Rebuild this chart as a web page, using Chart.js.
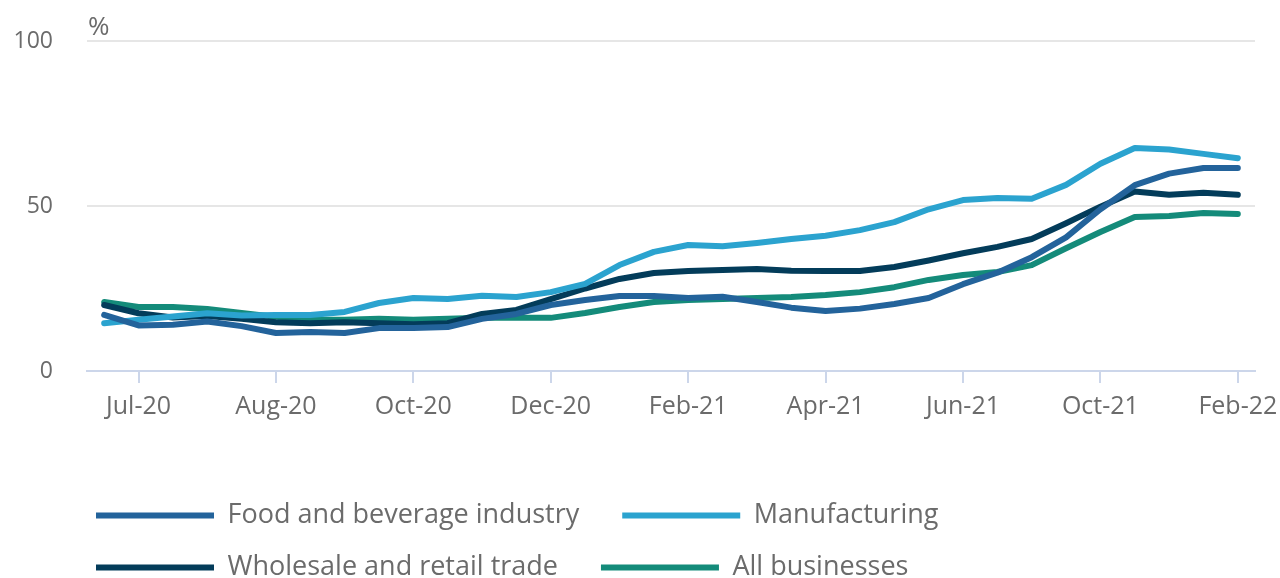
<!DOCTYPE html>
<html>
<head>
<meta charset="utf-8">
<script src="https://cdn.jsdelivr.net/npm/chart.js@4"></script>
<style>
  html, body { margin: 0; padding: 0; background: #fff; }
  #wrap { width: 1280px; height: 578px; }
</style>
</head>
<body>
<div id="wrap"><canvas id="myChart"></canvas></div>
<script>
// survey rounds, only some of them get a label on the axis
const categories = ['', 'Jul-20', '', '', '', 'Aug-20', '', '', '', 'Oct-20', '', '', '', 'Dec-20', '', '', '',
    'Feb-21', '', '', '', 'Apr-21', '', '', '', 'Jun-21', '', '', '', 'Oct-21', '', '', '', 'Feb-22'];

const foodBeverage = [17.0, 13.8, 14.0, 15.0, 13.6, 11.5, 11.8, 11.5, 13.0, 13.0, 13.3, 15.8, 17.3, 20.0, 21.5, 22.7, 22.7,
    22.1, 22.5, 20.9, 19.2, 18.2, 18.9, 20.3, 22.1, 26.3, 29.8, 34.5, 40.5, 49.0, 56.3, 59.8, 61.5, 61.5];
const manufacturing = [14.5, 15.5, 16.5, 17.5, 16.8, 17.0, 17.0, 17.9, 20.6, 22.1, 21.8, 22.8, 22.4, 23.9, 26.4, 32.1, 36.1,
    38.2, 37.8, 38.8, 40.0, 41.0, 42.7, 45.1, 49.0, 51.8, 52.4, 52.2, 56.4, 62.8, 67.6, 67.1, 65.8, 64.5];
const wholesaleRetail = [20.0, 17.5, 16.2, 16.7, 15.8, 14.8, 14.5, 14.8, 14.5, 14.2, 14.5, 17.3, 18.5, 21.8, 25.0, 27.9, 29.7,
    30.3, 30.6, 30.9, 30.4, 30.3, 30.3, 31.5, 33.5, 35.7, 37.6, 40.0, 44.8, 49.8, 54.4, 53.4, 54.0, 53.4];
const allBusinesses = [20.9, 19.4, 19.4, 18.8, 17.6, 16.4, 15.5, 15.5, 15.8, 15.5, 15.8, 16.1, 16.1, 16.1, 17.6, 19.4, 20.9,
    21.5, 21.8, 22.1, 22.4, 23.0, 23.9, 25.4, 27.6, 29.1, 30.0, 32.1, 37.2, 42.1, 46.7, 47.0, 47.9, 47.6];

const yMin = 0, yMax = 100, yStep = 50;

const FONT = "'Open Sans', sans-serif";
const GREY = '#6b6b6b';

function series(label, data, color) {
    return {
        label: label,
        data: data,
        borderColor: color,
        backgroundColor: color,
        borderWidth: 6,
        borderCapStyle: 'round',
        borderJoinStyle: 'round',
        pointRadius: 0,
        tension: 0
    };
}

// "%" over the y axis, and push the legend to the right a bit
const extras = {
    id: 'extras',
    afterLayout(chart) {
        const l = chart.legend;
        const dx = 71 - l.left;
        l.left += dx;
        l.right += dx;
    },
    afterDraw(chart) {
        const {ctx, chartArea} = chart;
        ctx.save();
        ctx.font = '26px ' + FONT;
        ctx.fillStyle = GREY;
        ctx.textAlign = 'left';
        ctx.textBaseline = 'alphabetic';
        ctx.fillText('%', chartArea.left + 1, 35);
        ctx.restore();
    }
};

new Chart(document.getElementById('myChart'), {
    type: 'line',
    data: {
        labels: categories,
        datasets: [
            series('Food and beverage industry', foodBeverage, '#23639b'),
            series('Manufacturing', manufacturing, '#2ba3cf'),
            series('Wholesale and retail trade', wholesaleRetail, '#033c5a'),
            series('All businesses', allBusinesses, '#148b7a')
        ]
    },
    options: {
        responsive: true,
        maintainAspectRatio: false,
        animation: false,
        layout: {
            padding: { left: 12, right: 25, top: 41, bottom: 0 }
        },
        plugins: {
            tooltip: { enabled: false },
            legend: {
                position: 'bottom',
                align: 'start',
                maxHeight: 101,
                labels: {
                    boxWidth: 118,
                    boxHeight: 6,
                    padding: 25,
                    color: GREY,
                    font: { family: FONT, size: 27 },
                    // no outline on the boxes, a bit more room between items
                    generateLabels(chart) {
                        return Chart.defaults.plugins.legend.labels.generateLabels(chart)
                            .map(item => Object.assign(item, { lineWidth: 0, text: item.text + '\u2002\u2009' }));
                    }
                }
            }
        },
        scales: {
            x: {
                offset: true,
                afterFit(scale) {
                    scale.height = 106;
                    scale.paddingLeft = 0;
                    scale.paddingRight = 0;
                },
                border: { color: '#ccd6ea', width: 2 },
                grid: {
                    offset: false,
                    drawOnChartArea: false,
                    tickLength: 12,
                    lineWidth: 2,
                    tickColor: c => (categories[c.index] ? '#ccd6ea' : 'rgba(0,0,0,0)')
                },
                ticks: {
                    autoSkip: false,
                    maxRotation: 0,
                    padding: 9,
                    color: GREY,
                    font: { family: FONT, size: 25 }
                }
            },
            y: {
                min: yMin,
                max: yMax,
                afterFit(scale) {
                    scale.width = 75;
                    scale.paddingTop = 0;
                    scale.paddingBottom = 0;
                },
                border: { display: false },
                grid: {
                    color: '#e6e6e6',
                    lineWidth: 2,
                    drawTicks: false
                },
                ticks: {
                    stepSize: yStep,
                    padding: 34,
                    color: GREY,
                    font: { family: FONT, size: 23 }
                }
            }
        }
    },
    plugins: [extras]
});
</script>
</body>
</html>
